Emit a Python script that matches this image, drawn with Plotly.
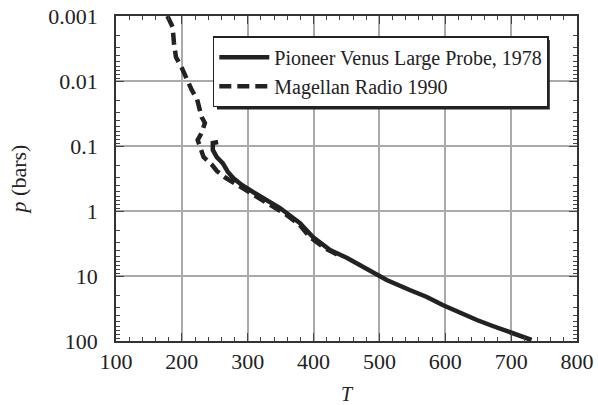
import plotly.graph_objects as go

# Pioneer Venus Large Probe, 1978 (solid)
pv_T = [255, 247, 247, 253, 262, 270, 278, 291, 308, 329, 349, 369, 379, 399,
        425, 451, 475, 511, 546, 572, 596, 622, 648, 672, 698, 731]
pv_p = [0.087, 0.090, 0.115, 0.148, 0.183, 0.251, 0.311, 0.398, 0.510, 0.678,
        0.90, 1.28, 1.53, 2.51, 3.98, 5.28, 7.27, 11.5, 16.4, 21.0, 27.9, 37.1,
        47.5, 58.8, 72.7, 96.5]

# Magellan Radio 1990 (dashed)
mg_T = [178, 186, 188, 191, 200, 208, 215, 223, 230, 235, 230, 224, 230, 233,
        246, 253, 267, 282, 296, 314, 334, 359, 379, 394, 417, 440]
mg_p = [0.001, 0.00148, 0.0026, 0.00428, 0.0063, 0.00966, 0.01375, 0.0189,
        0.0358, 0.0443, 0.063, 0.081, 0.115, 0.148, 0.196, 0.242, 0.311, 0.385,
        0.475, 0.63, 0.81, 1.15, 1.64, 2.51, 3.71, 4.92]

x_ticks = [100, 200, 300, 400, 500, 600, 700, 800]
y_ticks = [0.001, 0.01, 0.1, 1, 10, 100]
y_ticktext = ["0.001", "0.01", "0.1", "1", "10", "100"]

ink = "#222222"
font = "Liberation Serif"

fig = go.Figure()
fig.add_trace(go.Scatter(x=pv_T, y=pv_p, mode="lines",
                         name="Pioneer Venus Large Probe, 1978",
                         line=dict(color=ink, width=4.5)))
fig.add_trace(go.Scatter(x=mg_T, y=mg_p, mode="lines",
                         name="Magellan Radio 1990",
                         line=dict(color=ink, width=4.5, dash="12px,6px")))

fig.update_layout(
    width=598, height=405,
    margin=dict(l=116, r=21, t=16, b=64, autoexpand=False),
    paper_bgcolor="white", plot_bgcolor="white",
    font=dict(family=font, color=ink, size=22),
    showlegend=True,
    legend=dict(x=0.21, y=0.938, xanchor="left", yanchor="top",
                bgcolor="white", bordercolor=ink, borderwidth=1.5,
                font=dict(family=font, size=20, color=ink),
                tracegroupgap=0, itemwidth=50),
)

fig.update_xaxes(
    range=[100, 800], tickvals=x_ticks, ticks="inside", ticklen=8,
    tickcolor="#444", tickwidth=1.2, automargin=False,
    showgrid=True, gridcolor="#aaaaaa", gridwidth=1.5,
    showline=True, linecolor="#333", linewidth=1.5, mirror="ticks",
    minor=dict(dtick=20, ticks="inside", ticklen=4, tickcolor="#444", showgrid=False),
    ticklabelstandoff=0,
    title=dict(text="<i>T</i>", font=dict(size=20), standoff=14),
    zeroline=False,
)
fig.update_yaxes(
    type="log", range=[2, -3], tickvals=y_ticks, ticktext=y_ticktext,
    ticks="inside", ticklen=8, tickcolor="#444", tickwidth=1.2, automargin=False,
    showgrid=True, gridcolor="#aaaaaa", gridwidth=1.5,
    showline=True, linecolor="#333", linewidth=1.5, mirror="ticks",
    minor=dict(dtick="D1", ticks="inside", ticklen=4, tickcolor="#444", showgrid=False),
    ticklabelstandoff=12,
    title=dict(text="<i>p</i> (bars)", font=dict(size=22), standoff=16),
    zeroline=False,
)

# legend drop shadow (sits just behind the legend box, offset down-right)
fig.add_shape(type="rect", xref="paper", yref="paper",
              x0=0.219, x1=0.941, y0=0.712, y1=0.926,
              fillcolor=ink, line=dict(width=0), layer="above")

fig.write_html("out.html", config={"displayModeBar": False},
               post_script="document.body.style.margin='0px';")
